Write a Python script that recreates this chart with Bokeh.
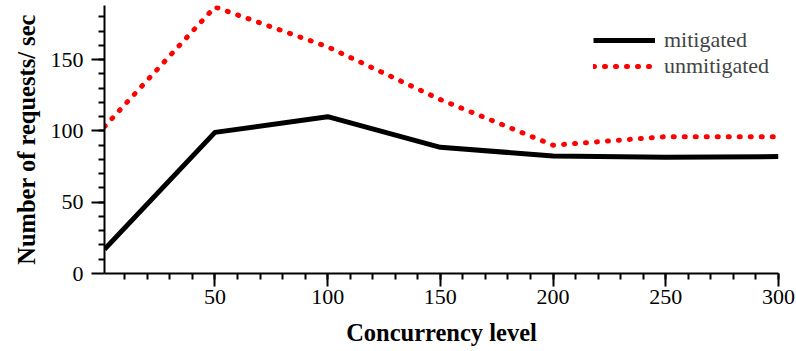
from bokeh.plotting import figure
from bokeh.models import FixedTicker, Range1d, Legend, LegendItem
from bokeh.embed import file_html
from bokeh.resources import INLINE

# Data
concurrency = [1, 50, 100, 150, 200, 250, 300]
mitigated = [17, 99, 110, 88.5, 82.5, 81.5, 82]
unmitigated = [103, 187, 159, 122, 90, 96, 96]
x_major = [50, 100, 150, 200, 250, 300]
x_minor = list(range(10, 301, 10))
y_major = [0, 50, 100, 150]
y_minor = list(range(10, 181, 10))

FONT = "Liberation Serif"

p = figure(width=796, height=351, output_backend="svg", toolbar_location=None,
           x_range=Range1d(1, 300), y_range=Range1d(0, 188),
           min_border_left=104, min_border_right=18, min_border_top=5, min_border_bottom=78)
p.outline_line_color = None
p.xgrid.grid_line_color = None
p.ygrid.grid_line_color = None
p.background_fill_color = "white"

r1 = p.line(concurrency, mitigated, line_color="black", line_width=5, line_join="round")
r2 = p.line(concurrency, unmitigated, line_color="#ff0000", line_width=5,
            line_dash="1 10", line_cap="round", line_join="round")

for ax, maj, mnr in ((p.xaxis[0], x_major, x_minor), (p.yaxis[0], y_major, y_minor)):
    ax.ticker = FixedTicker(ticks=maj, minor_ticks=mnr)
    ax.axis_line_width = 2
    ax.major_tick_line_width = 2
    ax.minor_tick_line_width = 2
    ax.major_tick_in = 0
    ax.major_tick_out = 13
    ax.minor_tick_in = 0
    ax.minor_tick_out = 6
    ax.major_label_text_font = FONT
    ax.major_label_text_font_size = "22px"
    ax.major_label_text_color = "black"
    ax.axis_label_text_font = FONT
    ax.axis_label_text_font_size = "24.5px"
    ax.axis_label_text_font_style = "bold"
    ax.axis_label_text_color = "black"

p.xaxis.axis_label = "Concurrency level"
p.yaxis.axis_label = "Number of requests/ sec"
p.xaxis.major_label_standoff = 3
p.yaxis.major_label_standoff = 8
p.xaxis.axis_label_standoff = 12
p.yaxis.axis_label_standoff = 8

legend = Legend(items=[LegendItem(label="mitigated", renderers=[r1]),
                       LegendItem(label="unmitigated", renderers=[r2])],
                location=(489, 194))
legend.background_fill_alpha = 0
legend.border_line_color = None
legend.label_text_font = FONT
legend.label_text_font_size = "22px"
legend.glyph_width = 62
legend.glyph_height = 24
legend.label_height = 24
legend.spacing = 0
legend.label_standoff = 9
legend.margin = 0
legend.padding = 2
p.add_layout(legend)

open("out.html", "w").write(file_html(p, INLINE))
